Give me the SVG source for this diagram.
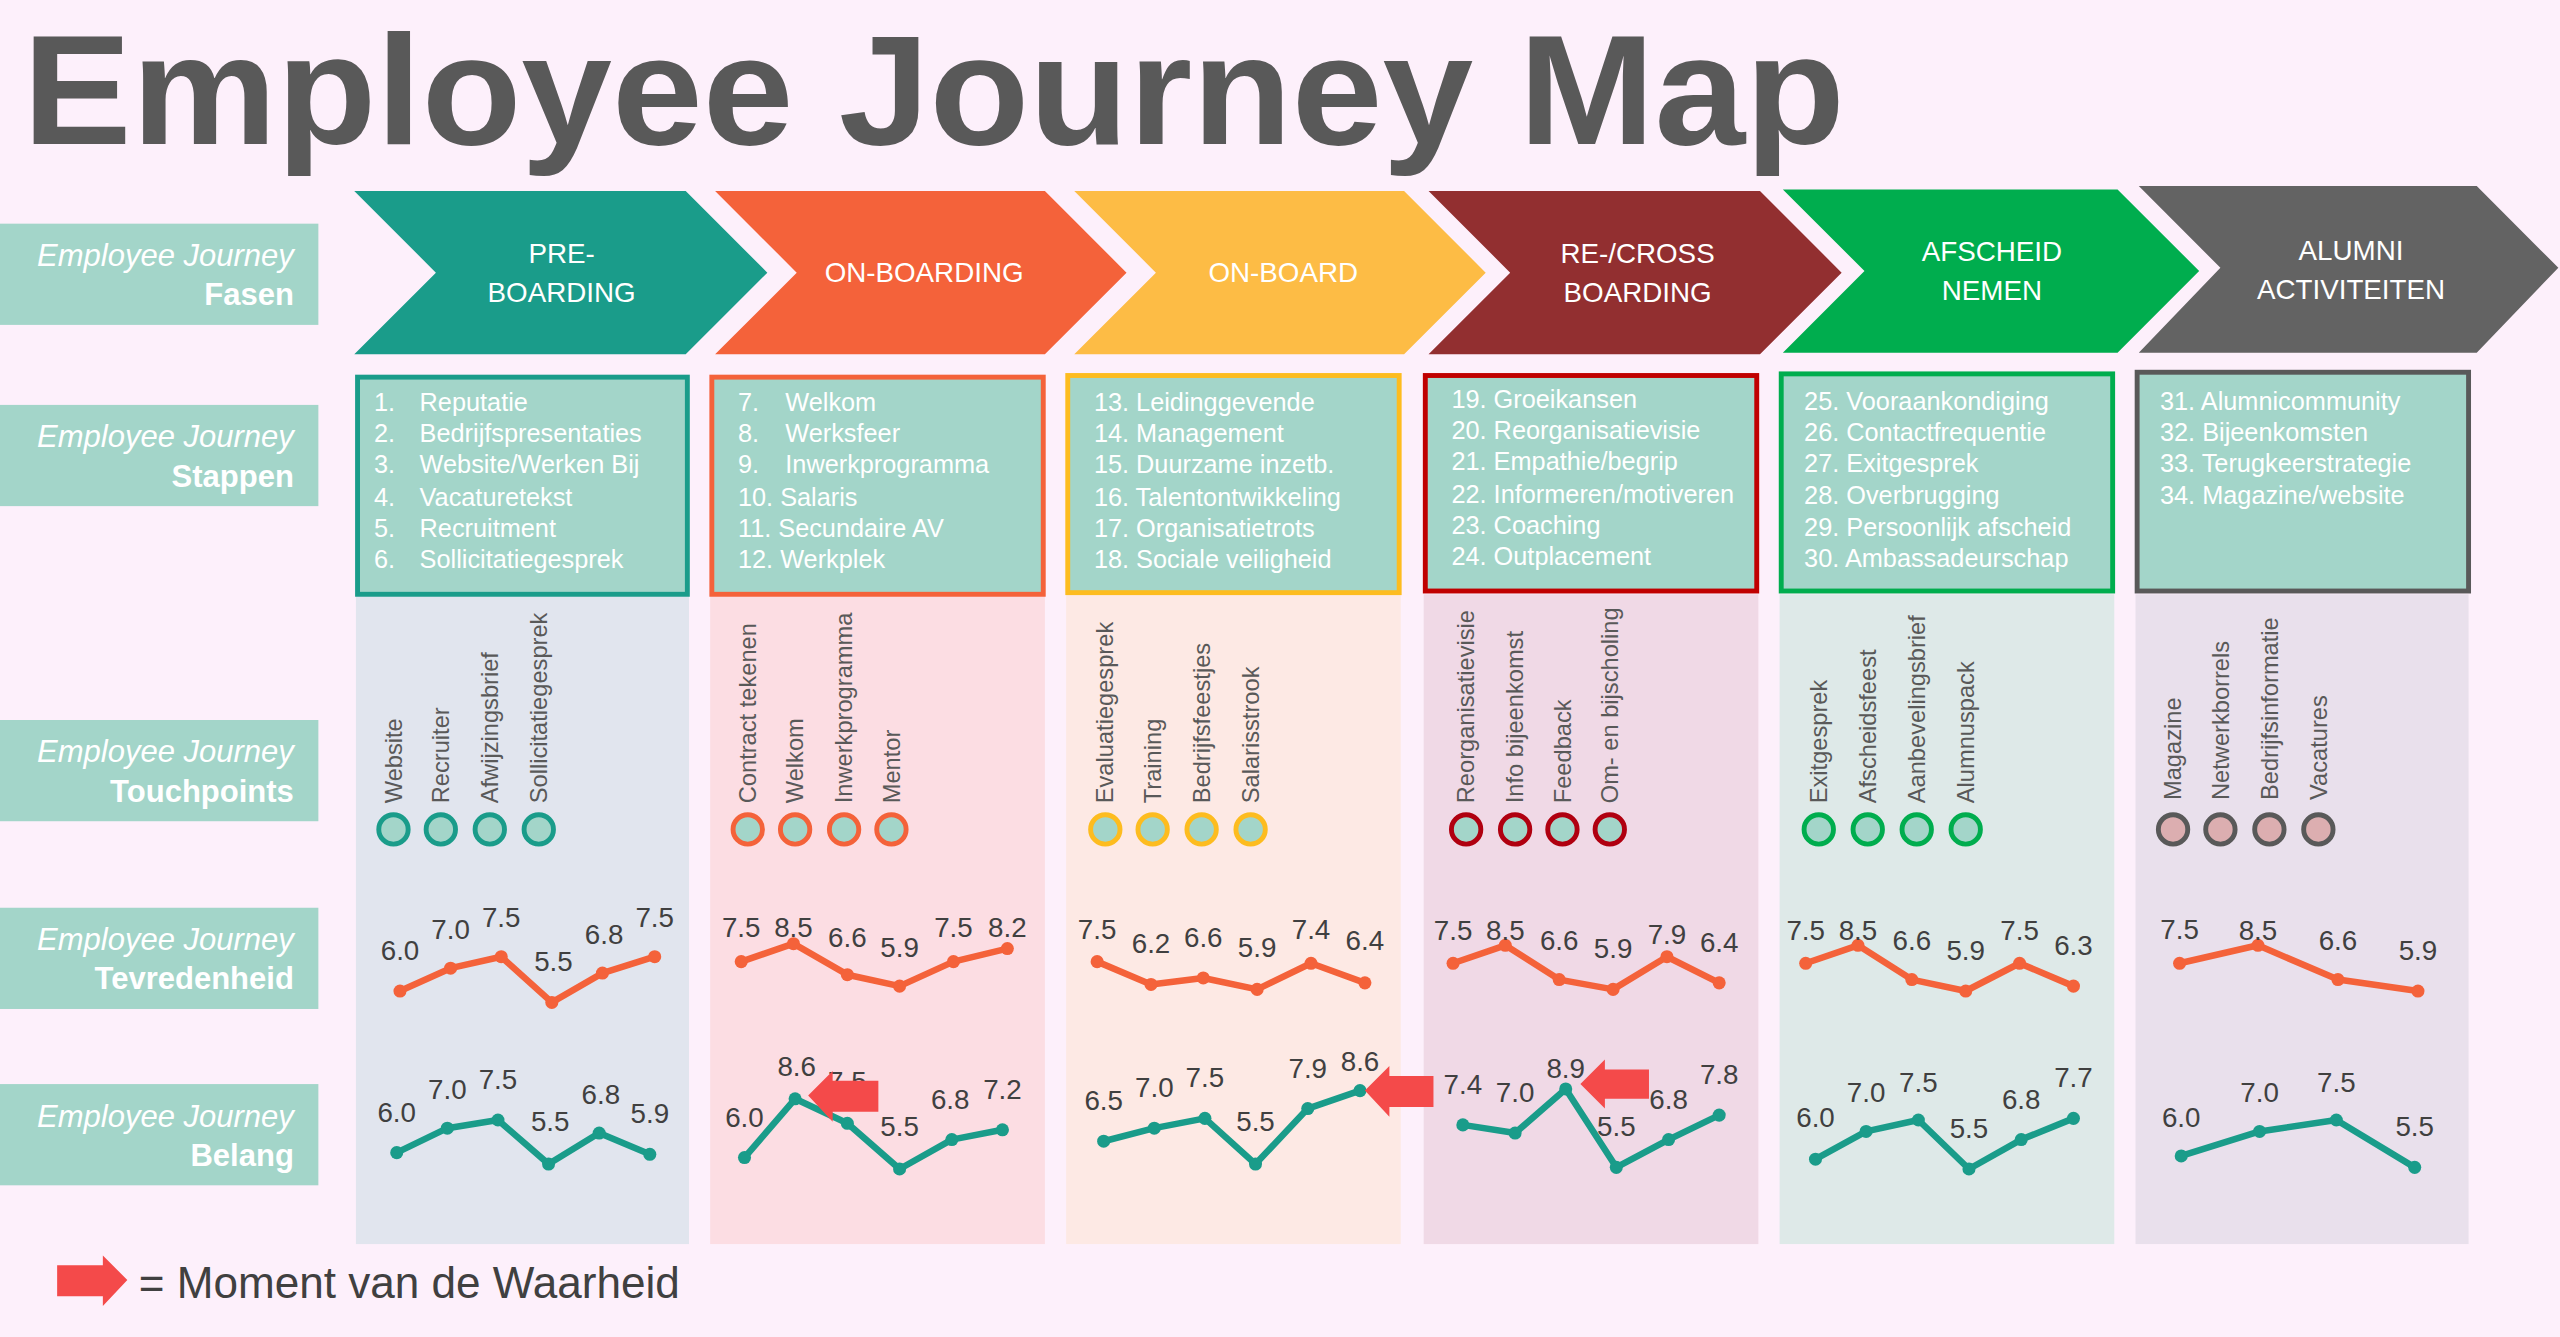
<svg xmlns="http://www.w3.org/2000/svg" width="2560" height="1337" viewBox="0 0 2560 1337">
<defs><style>
.lbl{fill:#a3d5c9}
.lt{font-family:"Liberation Sans",Arial,sans-serif;fill:#fff;font-size:19px;text-anchor:end}
.ph{font-family:"Liberation Sans",Arial,sans-serif;fill:#fff;font-size:17px;text-anchor:middle}
.st{font-family:"Liberation Sans",Arial,sans-serif;fill:#fff;font-size:15.5px}
.tp{font-family:"Liberation Sans",Arial,sans-serif;fill:#595959;font-size:14.5px}
.v{font-family:"Liberation Sans",Arial,sans-serif;fill:#404040;font-size:17px;text-anchor:middle}
.sat{fill:none;stroke:#f4623a;stroke-width:4;stroke-linejoin:round}
.bel{fill:none;stroke:#1a9c8a;stroke-width:4;stroke-linejoin:round}
.sd{fill:#f4623a}.bd{fill:#1a9c8a}
.arr{fill:#f44a4a}
</style></defs>
<rect width="2560" height="1337" fill="#fdf0fb"/>
<g transform="scale(1.63265)">
<text x="14" y="88" font-family="Liberation Sans,Arial,sans-serif" font-weight="bold" font-size="96" fill="#595959" textLength="1116" lengthAdjust="spacingAndGlyphs">Employee Journey Map</text>
<g id="labels">
<rect class="lbl" x="0" y="137" width="195" height="62"/><text class="lt" x="180" y="163"><tspan font-style="italic">Employee Journey</tspan><tspan x="180" dy="24" font-weight="bold">Fasen</tspan></text>
<rect class="lbl" x="0" y="248" width="195" height="62"/><text class="lt" x="180" y="274"><tspan font-style="italic">Employee Journey</tspan><tspan x="180" dy="24" font-weight="bold">Stappen</tspan></text>
<rect class="lbl" x="0" y="441" width="195" height="62"/><text class="lt" x="180" y="467"><tspan font-style="italic">Employee Journey</tspan><tspan x="180" dy="24" font-weight="bold">Touchpoints</tspan></text>
<rect class="lbl" x="0" y="556" width="195" height="62"/><text class="lt" x="180" y="582"><tspan font-style="italic">Employee Journey</tspan><tspan x="180" dy="24" font-weight="bold">Tevredenheid</tspan></text>
<rect class="lbl" x="0" y="664" width="195" height="62"/><text class="lt" x="180" y="690"><tspan font-style="italic">Employee Journey</tspan><tspan x="180" dy="24" font-weight="bold">Belang</tspan></text>
</g>
<g id="columns-bg">
<rect x="218" y="364" width="204" height="398" fill="#e1e5ee"/>
<rect x="435" y="364" width="205" height="398" fill="#fcdde3"/>
<rect x="653" y="364" width="205" height="398" fill="#fde9e4"/>
<rect x="872" y="364" width="205" height="398" fill="#f0d9e6"/>
<rect x="1090" y="364" width="205" height="398" fill="#dee9e8"/>
<rect x="1308" y="364" width="204" height="398" fill="#e9e0ec"/>
</g>
<g id="phase1"><polygon points="217,117 420,117 470,167 420,217 217,217 267,167" fill="#1a9c8a"/><text class="ph" x="344" y="161">PRE-<tspan x="344" dy="24">BOARDING</tspan></text></g>
<g id="phase2"><polygon points="438,117 640,117 690,167 640,217 438,217 488,167" fill="#f4623a"/><text class="ph" x="566" y="173">ON-BOARDING</text></g>
<g id="phase3"><polygon points="658,117 860,117 910,167 860,217 658,217 708,167" fill="#fdbc45"/><text class="ph" x="786" y="173">ON-BOARD</text></g>
<g id="phase4"><polygon points="875,117 1078,117 1128,167 1078,217 875,217 925,167" fill="#922f30"/><text class="ph" x="1003" y="161">RE-/CROSS<tspan x="1003" dy="24">BOARDING</tspan></text></g>
<g id="phase5"><polygon points="1092,116 1297,116 1347,166 1297,216 1092,216 1142,166" fill="#00ad4e"/><text class="ph" x="1220" y="160">AFSCHEID<tspan x="1220" dy="24">NEMEN</tspan></text></g>
<g id="phase6"><polygon points="1310,114 1517,114 1567,164 1517,216 1310,216 1360,164" fill="#636363"/><text class="ph" x="1440" y="159">ALUMNI<tspan x="1440" dy="24">ACTIVITEITEN</tspan></text></g>

<g id="steps1"><rect x="219" y="231" width="202" height="133" fill="#a3d5c9" stroke="#1a9c8a" stroke-width="3"/>
<text class="st"><tspan x="229" y="252">1.</tspan><tspan x="257" y="252">Reputatie</tspan><tspan x="229" y="271">2.</tspan><tspan x="257" y="271">Bedrijfspresentaties</tspan><tspan x="229" y="290">3.</tspan><tspan x="257" y="290">Website/Werken Bij</tspan><tspan x="229" y="310">4.</tspan><tspan x="257" y="310">Vacaturetekst</tspan><tspan x="229" y="329">5.</tspan><tspan x="257" y="329">Recruitment</tspan><tspan x="229" y="348">6.</tspan><tspan x="257" y="348">Sollicitatiegesprek</tspan></text></g>
<g id="steps2"><rect x="436" y="231" width="203" height="133" fill="#a3d5c9" stroke="#f4623a" stroke-width="3"/>
<text class="st"><tspan x="452" y="252">7.</tspan><tspan x="481" y="252">Welkom</tspan><tspan x="452" y="271">8.</tspan><tspan x="481" y="271">Werksfeer</tspan><tspan x="452" y="290">9.</tspan><tspan x="481" y="290">Inwerkprogramma</tspan><tspan x="452" y="310">10. Salaris</tspan><tspan x="452" y="329">11. Secundaire AV</tspan><tspan x="452" y="348">12. Werkplek</tspan></text></g>
<g id="steps3"><rect x="654" y="230" width="203" height="133" fill="#a3d5c9" stroke="#fdbc1f" stroke-width="3"/>
<text class="st"><tspan x="670" y="252">13. Leidinggevende</tspan><tspan x="670" y="271">14. Management</tspan><tspan x="670" y="290">15. Duurzame inzetb.</tspan><tspan x="670" y="310">16. Talentontwikkeling</tspan><tspan x="670" y="329">17. Organisatietrots</tspan><tspan x="670" y="348">18. Sociale veiligheid</tspan></text></g>
<g id="steps4"><rect x="873" y="230" width="203" height="132" fill="#a3d5c9" stroke="#c00000" stroke-width="3"/>
<text class="st"><tspan x="889" y="250">19. Groeikansen</tspan><tspan x="889" y="269">20. Reorganisatievisie</tspan><tspan x="889" y="288">21. Empathie/begrip</tspan><tspan x="889" y="308">22. Informeren/motiveren</tspan><tspan x="889" y="327">23. Coaching</tspan><tspan x="889" y="346">24. Outplacement</tspan></text></g>
<g id="steps5"><rect x="1091" y="229" width="203" height="133" fill="#a3d5c9" stroke="#00ad4e" stroke-width="3"/>
<text class="st"><tspan x="1105" y="251">25. Vooraankondiging</tspan><tspan x="1105" y="270">26. Contactfrequentie</tspan><tspan x="1105" y="289">27. Exitgesprek</tspan><tspan x="1105" y="309">28. Overbrugging</tspan><tspan x="1105" y="328">29. Persoonlijk afscheid</tspan><tspan x="1105" y="347">30. Ambassadeurschap</tspan></text></g>
<g id="steps6"><rect x="1309" y="228" width="203" height="134" fill="#a3d5c9" stroke="#595959" stroke-width="3"/>
<text class="st"><tspan x="1323" y="251">31. Alumnicommunity</tspan><tspan x="1323" y="270">32. Bijeenkomsten</tspan><tspan x="1323" y="289">33. Terugkeerstrategie</tspan><tspan x="1323" y="309">34. Magazine/website</tspan></text></g>

<g id="touchpoints">
<g fill="#a3d5c9" stroke-width="3">
<g stroke="#1a9c8a"><circle cx="241" cy="508" r="9"/><circle cx="270" cy="508" r="9"/><circle cx="300" cy="508" r="9"/><circle cx="330" cy="508" r="9"/></g>
<g stroke="#f4623a"><circle cx="458" cy="508" r="9"/><circle cx="487" cy="508" r="9"/><circle cx="517" cy="508" r="9"/><circle cx="546" cy="508" r="9"/></g>
<g stroke="#fdbc1f"><circle cx="677" cy="508" r="9"/><circle cx="706" cy="508" r="9"/><circle cx="736" cy="508" r="9"/><circle cx="766" cy="508" r="9"/></g>
<g stroke="#b00010"><circle cx="898" cy="508" r="9"/><circle cx="928" cy="508" r="9"/><circle cx="957" cy="508" r="9"/><circle cx="986" cy="508" r="9"/></g>
<g stroke="#00ad4e"><circle cx="1114" cy="508" r="9"/><circle cx="1144" cy="508" r="9"/><circle cx="1174" cy="508" r="9"/><circle cx="1204" cy="508" r="9"/></g>
<g stroke="#595959" fill="#dcaeb0"><circle cx="1331" cy="508" r="9"/><circle cx="1360" cy="508" r="9"/><circle cx="1390" cy="508" r="9"/><circle cx="1420" cy="508" r="9"/></g>
</g>
<g class="tp">
<text transform="translate(246,492) rotate(-90)">Website</text>
<text transform="translate(275,492) rotate(-90)">Recruiter</text>
<text transform="translate(305,492) rotate(-90)">Afwijzingsbrief</text>
<text transform="translate(335,492) rotate(-90)">Sollicitatiegesprek</text>
<text transform="translate(463,492) rotate(-90)">Contract tekenen</text>
<text transform="translate(492,492) rotate(-90)">Welkom</text>
<text transform="translate(522,492) rotate(-90)">Inwerkprogramma</text>
<text transform="translate(551,492) rotate(-90)">Mentor</text>
<text transform="translate(682,492) rotate(-90)">Evaluatiegesprek</text>
<text transform="translate(711,492) rotate(-90)">Training</text>
<text transform="translate(741,492) rotate(-90)">Bedrijfsfeestjes</text>
<text transform="translate(771,492) rotate(-90)">Salarisstrook</text>
<text transform="translate(903,492) rotate(-90)">Reorganisatievisie</text>
<text transform="translate(933,492) rotate(-90)">Info bijeenkomst</text>
<text transform="translate(962,492) rotate(-90)">Feedback</text>
<text transform="translate(991,492) rotate(-90)">Om- en bijscholing</text>
<text transform="translate(1119,492) rotate(-90)">Exitgesprek</text>
<text transform="translate(1149,492) rotate(-90)">Afscheidsfeest</text>
<text transform="translate(1179,492) rotate(-90)">Aanbevelingsbrief</text>
<text transform="translate(1209,492) rotate(-90)">Alumnuspack</text>
<text transform="translate(1336,490) rotate(-90)">Magazine</text>
<text transform="translate(1365,490) rotate(-90)">Netwerkborrels</text>
<text transform="translate(1395,490) rotate(-90)">Bedrijfsinformatie</text>
<text transform="translate(1425,490) rotate(-90)">Vacatures</text>
</g>
</g>

<g id="connectors">
<polyline class="sat" points="245,607 276,593 307,586 338,614 369,596 401,586"/>
<polyline class="sat" points="454,589 486,578 519,597 551,604 584,589 617,581"/>
<polyline class="sat" points="672,589 705,603 737,599 770,606 803,590 836,602"/>
<polyline class="sat" points="890,590 922,579 955,600 988,606 1021,586 1053,602"/>
<polyline class="sat" points="1106,590 1138,579 1171,600 1204,607 1237,590 1270,604"/>
<polyline class="sat" points="1335,590 1383,579 1432,600 1481,607"/>
<polyline class="bel" points="243,706 274,691 305,686 336,713 367,694 398,707"/>
<polyline class="bel" points="456,709 487,673 519,688 551,716 583,698 614,692"/>
<polyline class="bel" points="676,699 707,691 738,685 769,713 801,679 833,668"/>
<polyline class="bel" points="896,689 928,694 959,667 990,715 1022,698 1053,683"/>
<polyline class="bel" points="1112,710 1143,693 1175,686 1206,716 1238,698 1270,685"/>
<polyline class="bel" points="1336,708 1384,693 1431,686 1479,715"/>
</g>
<g id="dots">
<g class="sd">
<circle cx="245" cy="607" r="4"/><circle cx="276" cy="593" r="4"/><circle cx="307" cy="586" r="4"/><circle cx="338" cy="614" r="4"/><circle cx="369" cy="596" r="4"/><circle cx="401" cy="586" r="4"/>
<circle cx="454" cy="589" r="4"/><circle cx="486" cy="578" r="4"/><circle cx="519" cy="597" r="4"/><circle cx="551" cy="604" r="4"/><circle cx="584" cy="589" r="4"/><circle cx="617" cy="581" r="4"/>
<circle cx="672" cy="589" r="4"/><circle cx="705" cy="603" r="4"/><circle cx="737" cy="599" r="4"/><circle cx="770" cy="606" r="4"/><circle cx="803" cy="590" r="4"/><circle cx="836" cy="602" r="4"/>
<circle cx="890" cy="590" r="4"/><circle cx="922" cy="579" r="4"/><circle cx="955" cy="600" r="4"/><circle cx="988" cy="606" r="4"/><circle cx="1021" cy="586" r="4"/><circle cx="1053" cy="602" r="4"/>
<circle cx="1106" cy="590" r="4"/><circle cx="1138" cy="579" r="4"/><circle cx="1171" cy="600" r="4"/><circle cx="1204" cy="607" r="4"/><circle cx="1237" cy="590" r="4"/><circle cx="1270" cy="604" r="4"/>
<circle cx="1335" cy="590" r="4"/><circle cx="1383" cy="579" r="4"/><circle cx="1432" cy="600" r="4"/><circle cx="1481" cy="607" r="4"/>
</g>
<g class="bd">
<circle cx="243" cy="706" r="4"/><circle cx="274" cy="691" r="4"/><circle cx="305" cy="686" r="4"/><circle cx="336" cy="713" r="4"/><circle cx="367" cy="694" r="4"/><circle cx="398" cy="707" r="4"/>
<circle cx="456" cy="709" r="4"/><circle cx="487" cy="673" r="4"/><circle cx="519" cy="688" r="4"/><circle cx="551" cy="716" r="4"/><circle cx="583" cy="698" r="4"/><circle cx="614" cy="692" r="4"/>
<circle cx="676" cy="699" r="4"/><circle cx="707" cy="691" r="4"/><circle cx="738" cy="685" r="4"/><circle cx="769" cy="713" r="4"/><circle cx="801" cy="679" r="4"/><circle cx="833" cy="668" r="4"/>
<circle cx="896" cy="689" r="4"/><circle cx="928" cy="694" r="4"/><circle cx="959" cy="667" r="4"/><circle cx="990" cy="715" r="4"/><circle cx="1022" cy="698" r="4"/><circle cx="1053" cy="683" r="4"/>
<circle cx="1112" cy="710" r="4"/><circle cx="1143" cy="693" r="4"/><circle cx="1175" cy="686" r="4"/><circle cx="1206" cy="716" r="4"/><circle cx="1238" cy="698" r="4"/><circle cx="1270" cy="685" r="4"/>
<circle cx="1336" cy="708" r="4"/><circle cx="1384" cy="693" r="4"/><circle cx="1431" cy="686" r="4"/><circle cx="1479" cy="715" r="4"/>
</g>
</g>
<g id="values" class="v">
<text x="245" y="588">6.0</text><text x="276" y="575">7.0</text><text x="307" y="568">7.5</text><text x="339" y="595">5.5</text><text x="370" y="578">6.8</text><text x="401" y="568">7.5</text>
<text x="454" y="574">7.5</text><text x="486" y="574">8.5</text><text x="519" y="580">6.6</text><text x="551" y="586">5.9</text><text x="584" y="574">7.5</text><text x="617" y="574">8.2</text>
<text x="672" y="575">7.5</text><text x="705" y="584">6.2</text><text x="737" y="580">6.6</text><text x="770" y="586">5.9</text><text x="803" y="575">7.4</text><text x="836" y="582">6.4</text>
<text x="890" y="576">7.5</text><text x="922" y="576">8.5</text><text x="955" y="582">6.6</text><text x="988" y="587">5.9</text><text x="1021" y="578">7.9</text><text x="1053" y="583">6.4</text>
<text x="1106" y="576">7.5</text><text x="1138" y="576">8.5</text><text x="1171" y="582">6.6</text><text x="1204" y="588">5.9</text><text x="1237" y="576">7.5</text><text x="1270" y="585">6.3</text>
<text x="1335" y="575">7.5</text><text x="1383" y="576">8.5</text><text x="1432" y="582">6.6</text><text x="1481" y="588">5.9</text>
<text x="243" y="687">6.0</text><text x="274" y="673">7.0</text><text x="305" y="667">7.5</text><text x="337" y="693">5.5</text><text x="368" y="676">6.8</text><text x="398" y="688">5.9</text>
<text x="456" y="690">6.0</text><text x="488" y="659">8.6</text><text x="519" y="668">7.5</text><text x="551" y="696">5.5</text><text x="582" y="679">6.8</text><text x="614" y="673">7.2</text>
<text x="676" y="680">6.5</text><text x="707" y="672">7.0</text><text x="738" y="666">7.5</text><text x="769" y="693">5.5</text><text x="801" y="660">7.9</text><text x="833" y="656">8.6</text>
<text x="896" y="670">7.4</text><text x="928" y="675">7.0</text><text x="959" y="660">8.9</text><text x="990" y="696">5.5</text><text x="1022" y="679">6.8</text><text x="1053" y="664">7.8</text>
<text x="1112" y="690">6.0</text><text x="1143" y="675">7.0</text><text x="1175" y="669">7.5</text><text x="1206" y="697">5.5</text><text x="1238" y="679">6.8</text><text x="1270" y="666">7.7</text>
<text x="1336" y="690">6.0</text><text x="1384" y="675">7.0</text><text x="1431" y="669">7.5</text><text x="1479" y="696">5.5</text>
</g>
<g id="moments">
<polygon class="arr" points="495,671 510,656 510,662 538,662 538,681 510,681 510,687"/>
<polygon class="arr" points="836,668 851,653 851,659 878,659 878,678 851,678 851,684"/>
<polygon class="arr" points="968,664 983,649 983,655 1010,655 1010,673 983,673 983,679"/>
</g>
<g id="legend">
<polygon class="arr" points="78,784 63,769 63,775 35,775 35,794 63,794 63,800"/>
<text x="85" y="795" font-family="Liberation Sans,Arial,sans-serif" font-size="27" fill="#404040">= Moment van de Waarheid</text>
</g>
</g>
</svg>
